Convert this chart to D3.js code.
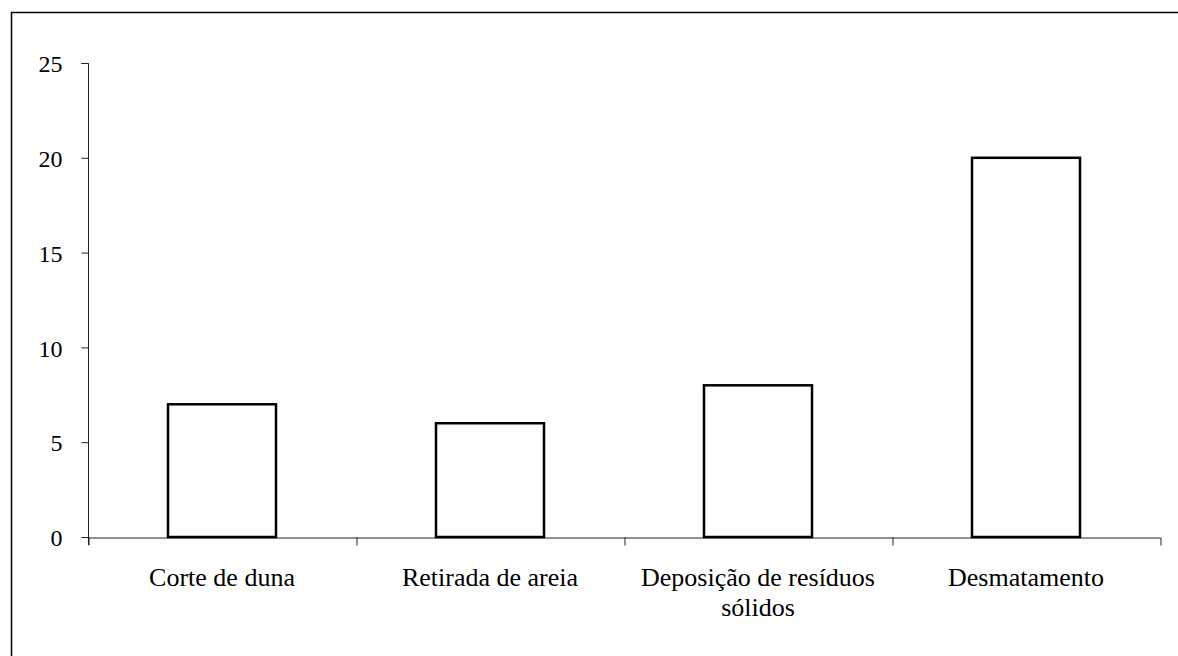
<!DOCTYPE html>
<html>
<head>
<meta charset="utf-8">
<script src="https://cdn.jsdelivr.net/npm/d3@7"></script>
<style>
  body { margin: 0; background: #fff; }
  svg { display: block; }
  text { font-family: "Liberation Serif", "Times New Roman", serif; fill: #000; }
</style>
</head>
<body>
<div id="chart"></div>
<script>
// chart data
const categories = ['Corte de duna', 'Retirada de areia', 'Deposição de resíduos sólidos', 'Desmatamento'];
const values = [7, 6, 8, 20];
const yTicks = [0, 5, 10, 15, 20, 25];

const W = 1178, H = 656;
const margin = { top: 63, right: 18, bottom: 119, left: 88 };
const width = W - margin.left - margin.right,
    height = H - margin.top - margin.bottom;

const svg = d3.select('#chart').append('svg')
    .attr('width', W)
    .attr('height', H);

// outer frame (cut off at right and bottom like the original)
svg.append('rect')
    .attr('x', 11.5)
    .attr('y', 12.5)
    .attr('width', W + 20)
    .attr('height', H + 20)
    .attr('fill', 'none')
    .attr('stroke', '#000')
    .attr('stroke-width', 1.5);

const plot = svg.append('g')
    .attr('transform', `translate(${margin.left},${margin.top})`);

const x = d3.scaleBand()
    .domain(categories)
    .range([0, width])
    .paddingInner(0.597)
    .paddingOuter(0.2985);

const y = d3.scaleLinear()
    .domain([0, 25])
    .range([height, 0]);

// y axis
const yAxis = plot.append('g')
    .attr('transform', 'translate(0.5,0)')
    .attr('font-family', null)
    .call(d3.axisLeft(y).tickValues(yTicks).tickSize(7).tickPadding(19).tickSizeOuter(0));
yAxis.select('.domain').attr('stroke', '#222').attr('d', `M-7,${y(25) + 0.5}H0V${height + 8}`);
yAxis.selectAll('.tick line').attr('stroke', '#222');
yAxis.selectAll('.tick text')
    .attr('dy', '0.36em')
    .style('font-size', '24px')
    .style('font-family', '"Liberation Serif", serif');

// x axis: ticks at category boundaries
const step = x.step();
const bounds = d3.range(categories.length + 1).map(i => i * step);
const xEdge = d3.scaleLinear().domain([0, width]).range([0, width]);
const xAxis = plot.append('g')
    .attr('transform', `translate(0,${height + 0.5})`)
    .call(d3.axisBottom(xEdge).tickValues(bounds).tickSize(8).tickFormat('').tickSizeOuter(0));
xAxis.select('.domain').attr('stroke', '#222');
xAxis.selectAll('.tick line').attr('stroke', '#222').attr('transform', 'translate(0.5,0)');

// category labels
const labels = plot.append('g')
    .selectAll('text')
    .data(categories)
    .enter()
    .append('text')
    .attr('x', d => x(d) + x.bandwidth() / 2)
    .attr('y', height + 49)
    .attr('text-anchor', 'middle')
    .style('font-size', '26px')
    .style('font-family', '"Liberation Serif", serif')
    .text(d => d);

// wrap labels that are wider than the band step
labels.each(function (d) {
    const t = d3.select(this);
    if (this.getComputedTextLength() <= step - 10) return;
    const words = d.split(' ');
    t.text(null);
    let line = [];
    let tspan = t.append('tspan').attr('x', t.attr('x')).attr('dy', 0);
    words.forEach(w => {
        line.push(w);
        tspan.text(line.join(' '));
        if (tspan.node().getComputedTextLength() > step - 10 && line.length > 1) {
            line.pop();
            tspan.text(line.join(' '));
            line = [w];
            tspan = t.append('tspan').attr('x', t.attr('x')).attr('dy', 30).text(w);
        }
    });
});

// bars
plot.selectAll('rect.bar')
    .data(values)
    .enter()
    .append('rect')
    .classed('bar', true)
    .attr('x', (d, i) => x(categories[i]))
    .attr('y', d => y(d))
    .attr('width', x.bandwidth())
    .attr('height', d => height - y(d))
    .attr('fill', '#fff')
    .attr('stroke', '#000')
    .attr('stroke-width', 2.5);
</script>
</body>
</html>
